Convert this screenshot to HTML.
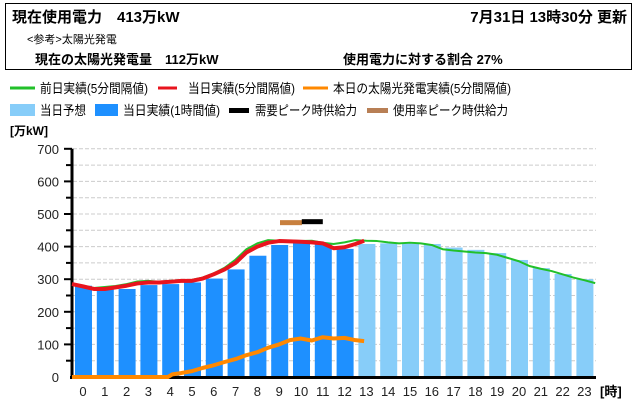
<!DOCTYPE html>
<html><head><meta charset="utf-8">
<style>
body{margin:0;background:#fff;font-family:"Liberation Sans","Noto Sans CJK JP",sans-serif;}
#wrap{position:relative;width:640px;height:420px;overflow:hidden;}
.hdr{position:absolute;left:5px;top:3px;width:627px;height:67px;border:1px solid #000;box-sizing:border-box;}
.t{position:absolute;white-space:nowrap;color:#000;}
.b{font-weight:bold;}
</style></head><body>
<div id="wrap">
<div class="hdr"></div>
<div class="t b" style="left:12px;top:6px;font-size:15px">現在使用電力　413万kW</div>
<div class="t b" style="right:13px;top:6px;font-size:15px">7月31日 13時30分 更新</div>
<div class="t" style="left:27px;top:31px;font-size:11px">&lt;参考&gt;太陽光発電</div>
<div class="t b" style="left:35px;top:49px;font-size:13px">現在の太陽光発電量　112万kW</div>
<div class="t b" style="left:343px;top:49px;font-size:13px">使用電力に対する割合 27%</div>
<svg id="svg" width="640" height="420" style="position:absolute;left:0;top:0"></svg>
</div>
<script>
const hours=[0,1,2,3,4,5,6,7,8,9,10,11,12,13,14,15,16,17,18,19,20,21,22,23];
const actualBars=[280,270,270,282,285,290,302,330,372,405,412,408,393,408];
const forecastBars=[null,null,null,null,null,null,null,null,null,null,null,null,null,408,410,412,408,397,390,380,359,334,316,300];
const prevT=[0,0.5,1,1.5,2,2.5,3,3.5,4,4.5,5,5.5,6,6.5,7,7.5,8,8.5,9,9.5,10,10.5,11,11.5,12,12.5,13,13.5,14,14.5,15,15.5,16,16.5,17,17.5,18,18.5,19,19.5,20,20.5,21,21.5,22,22.5,23,23.5,24];
const prevV=[285,280,273,276,279,285,293,295,292,295,297,298,305,318,335,360,392,410,420,418,418,417,418,412,408,413,420,418,417,413,410,412,410,405,392,388,385,382,380,375,365,355,340,332,325,315,305,297,288];
const todayT=[0,0.5,1,1.5,2,2.5,3,3.5,4,4.5,5,5.5,6,6.5,7,7.5,8,8.5,9,9.5,10,10.5,11,11.5,12,12.5,13,13.4];
const todayV=[285,278,270,270,275,280,287,290,290,292,295,295,302,315,330,350,382,400,412,417,416,415,413,410,395,398,408,418];
const solarT=[0,4.4,4.6,5,5.5,6,6.5,7,7.5,8,8.5,9,9.5,10,10.5,11,11.5,12,12.5,13,13.4];
const solarV=[0,0,8,12,18,28,36,46,55,67,76,90,100,113,118,112,122,118,120,113,110];
const peakDemand=478, peakUsage=475;
const yTicks=[0,100,200,300,400,500,600,700];

const NS="http://www.w3.org/2000/svg", svg=document.getElementById('svg');
const X0=72, SW=21.8, Y0=377, YS=32.6/100;
const xs=t=>X0+t*SW, ys=v=>Y0-v*YS;
function mk(tag,attrs,parent){const e=document.createElementNS(NS,tag);for(const k in attrs)e.setAttribute(k,attrs[k]);(parent||svg).appendChild(e);return e;}
// legend: [markX, y, type, color, label, textX, textWidth, markW]
const leg=[[10,88,'line','#22c02a','前日実績(5分間隔値)',40,108,25],[158,88,'line','#e8141e','当日実績(5分間隔値)',188,107,19],[303,88,'line','#ff8800','本日の太陽光発電実績(5分間隔値)',333,178,25],
[10,110,'box','#87cdf9','当日予想',40,46,25],[95,110,'box','#1e90ff','当日実績(1時間値)',123,97,23],[229,110,'bar','#000','需要ピーク時供給力',255,102,20],[367,110,'bar','#b87f55','使用率ピーク時供給力',393,115,21]];
leg.forEach(l=>{
 const g=mk('g',{});
 
 
 if(l[2]=='line') mk('rect',{x:l[0],y:l[1]-1.5,width:l[7],height:3,fill:l[3]},g);
 else if(l[2]=='bar') mk('rect',{x:l[0],y:l[1]-2,width:l[7],height:5,fill:l[3]},g);
 else mk('rect',{x:l[0],y:l[1]-6,width:l[7],height:12,fill:l[3]},g);
 const t=mk('text',{x:l[5],y:l[1]+5,'font-size':13,textLength:l[6],lengthAdjust:'spacingAndGlyphs'},g);t.textContent=l[4];
});
const ut=mk('text',{x:10,y:135,'font-size':12,'font-weight':'bold'});ut.textContent='[万kW]';


// grid
for(let v=50;v<=700;v+=50){
 const gl=mk('line',{x1:73,x2:596,y1:ys(v),y2:ys(v),stroke:'#ccc','stroke-dasharray':'4,2'});
 
 
 mk('line',{x1:v%100?66:64,x2:72,y1:ys(v),y2:ys(v),stroke:'#000','stroke-width':2});
}
yTicks.forEach(v=>{const t=mk('text',{x:59,y:ys(v)+5,'font-size':13,'text-anchor':'end',fill:'#222'});t.textContent=v;
 
 });
// bars
hours.forEach((h,i)=>{
 const v=i<actualBars.length&&i<13?actualBars[i]:forecastBars[i];
 if(v==null)return;
 const r=mk('rect',{x:xs(h)+3,y:ys(v),width:17,height:Y0-ys(v),fill:i<13?'#1e90ff':'#87cdf9'});
 
 
 const t=mk('text',{x:xs(h)+11,y:396,'font-size':13,'text-anchor':'middle',fill:'#222'});t.textContent=h;
 
 
});
const xl=mk('text',{x:600,y:396,'font-size':13,'font-weight':'bold'});xl.textContent='[時]';


// axes
mk('line',{x1:72,x2:72,y1:ys(700),y2:379,stroke:'#000','stroke-width':3});
mk('line',{x1:70,x2:596,y1:377.5,y2:377.5,stroke:'#000','stroke-width':3});
function line(T,V,c,w,name){const p=mk('polyline',{points:T.map((t,i)=>xs(t)+','+ys(V[i])).join(' '),fill:'none',stroke:c,'stroke-width':w,'stroke-linejoin':'round'});
 
 }
line(prevT,prevV,'#22c02a',2,'prev-day-line');
line(todayT,todayV,'#e8141e',4,'today-line');
line(solarT,solarV,'#ff8800',4,'solar-line');
const pu=mk('rect',{x:xs(10)-10,y:ys(peakUsage)-2,width:22,height:5,fill:'#c8803f'});


const pd=mk('rect',{x:xs(11)-10,y:ys(peakDemand)-2,width:21,height:5,fill:'#000'});


</script>
</body></html>
